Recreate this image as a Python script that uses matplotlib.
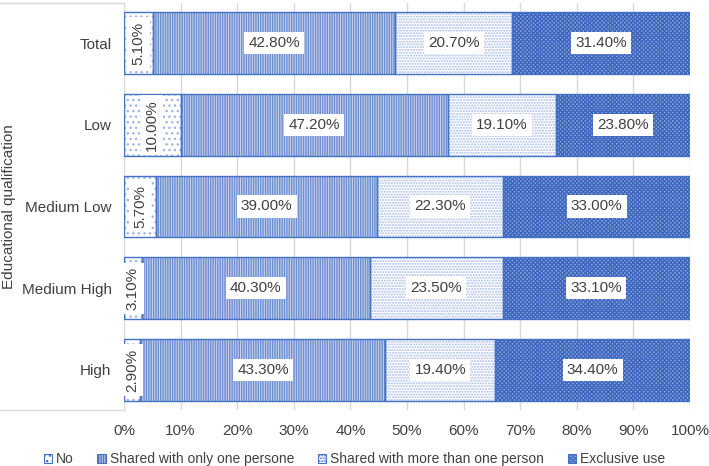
import numpy as np
import matplotlib.pyplot as plt
from matplotlib.lines import Line2D
from matplotlib.patches import Patch

plt.rcParams['font.family'] = ['Liberation Sans', 'DejaVu Sans']
plt.rcParams['hatch.linewidth'] = 1.0

# Données
categories = ['Total', 'Low', 'Medium Low', 'Medium High', 'High']
series = ['No', 'Shared with only one persone',
          'Shared with more than one person', 'Exclusive use']
no_use = [5.10, 10.00, 5.70, 3.10, 2.90]
shared_one = [42.80, 47.20, 39.00, 40.30, 43.30]
shared_more = [20.70, 19.10, 22.30, 23.50, 19.40]
exclusive = [31.40, 23.80, 33.00, 33.10, 34.40]
xticks = [0, 10, 20, 30, 40, 50, 60, 70, 80, 90, 100]

values = [no_use, shared_one, shared_more, exclusive]

# styles: (fond, motif, couleur du motif)
styles = [
    ('white', '...', '#9fb5e3'),
    ('#c9d5f0', '|||||||', '#6d8dcf'),
    ('white', '......', '#a9bce6'),
    ('#8ea7de', 'xxxxxxxx', '#3d66bd'),
]
border = '#4472c4'
txt = '#404040'

fig = plt.figure(figsize=(7.09, 4.66), dpi=100)
ax = fig.add_axes([124 / 709, 1 - 410 / 466, 566 / 709, 407 / 466])

y = np.arange(len(categories))
left = np.zeros(len(categories))
h = 0.756
for vals, (fc, hatch, hc) in zip(values, styles):
    vals = np.array(vals)
    ax.barh(y, vals, left=left, height=h, color=fc, hatch=hatch,
            edgecolor=hc, linewidth=0, zorder=2)
    ax.barh(y, vals, left=left, height=h, fill=False,
            edgecolor=border, linewidth=1.0, zorder=3)
    for yi, l, v in zip(y, left, vals):
        rot = 90 if v < 15 else 0
        ax.text(l + v / 2, yi, f'{v:.2f}%', ha='center', va='center',
                rotation=rot, fontsize=11, color=txt, zorder=4,
                bbox=dict(facecolor='white', edgecolor='none', pad=3))
    left = left + vals

ax.set_xlim(0, 100)
ax.set_ylim(4.49, -0.49)
ax.set_xticks(xticks)
ax.set_xticklabels([f'{t}%' for t in xticks])
ax.set_yticks(y)
ax.set_yticklabels(categories)
ax.tick_params(axis='x', length=0, pad=10, labelsize=11, labelcolor=txt)
ax.tick_params(axis='y', length=0, pad=9, labelsize=11, labelcolor=txt)
ax.grid(axis='x', color='#d9d9d9', linewidth=1, zorder=0)
ax.set_axisbelow(True)
for s in ['top', 'right', 'bottom']:
    ax.spines[s].set_visible(False)
ax.spines['left'].set_color('#d9d9d9')

# cadre des étiquettes de catégories
fig.add_artist(Line2D([0, 124 / 709], [1 - 3 / 466] * 2, color='#d9d9d9', lw=1))
fig.add_artist(Line2D([0, 124 / 709], [1 - 410 / 466] * 2, color='#d9d9d9', lw=1))

fig.text(9 / 709, 1 - 207 / 466, 'Educational qualification', rotation=90,
         ha='center', va='center', fontsize=11, color=txt)

handles = [Patch(facecolor=fc, hatch=hatch, edgecolor=border, linewidth=0.8)
           for fc, hatch, hc in styles]
fig.legend(handles, series, loc='center', bbox_to_anchor=(0.5, 1 - 459 / 466),
           ncol=4, frameon=False, fontsize=10, handlelength=0.6,
           handleheight=0.6, handletextpad=0.3, columnspacing=1.7,
           labelcolor=txt)

fig.savefig('out.png', dpi=100)
